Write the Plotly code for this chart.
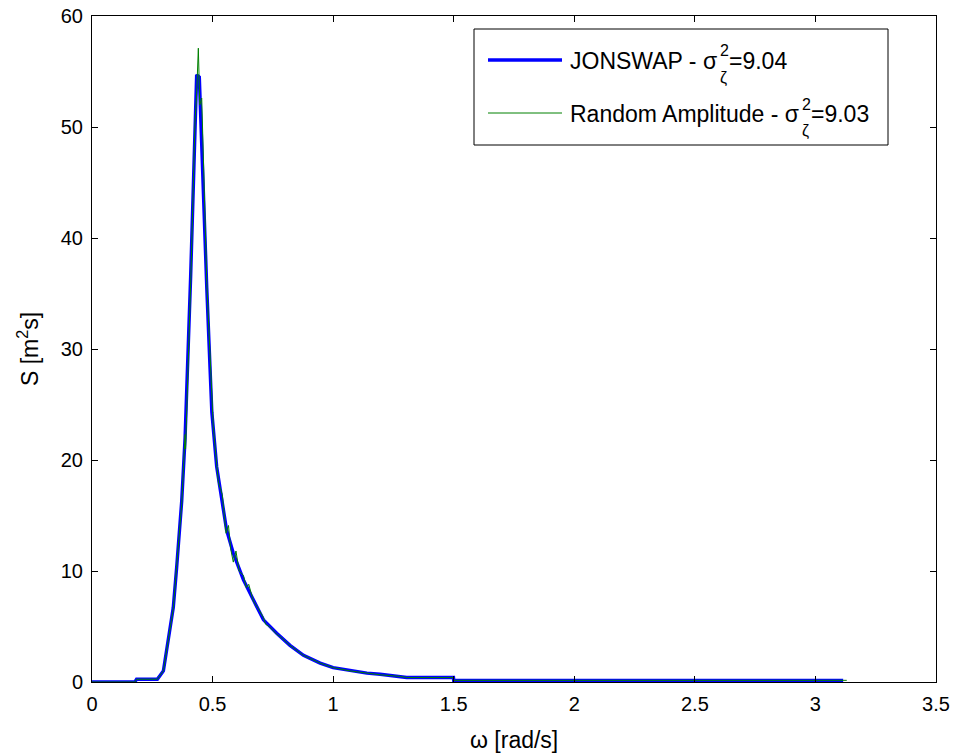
import plotly.graph_objects as go

# ---- data ----
omega_jonswap = [0.0, 0.10, 0.178, 0.185, 0.271, 0.296, 0.317, 0.337, 0.351, 0.372, 0.386,
                 0.409, 0.434, 0.445, 0.476, 0.497, 0.517, 0.538, 0.558, 0.586, 0.628,
                 0.669, 0.711, 0.766, 0.821, 0.877, 0.946, 1.0, 1.07, 1.14, 1.195, 1.28,
                 1.305, 1.499, 1.50, 3.115]
S_jonswap = [0.0, 0.0, 0.0, 0.25, 0.25, 1.0, 3.8, 6.7, 10.3, 16.3, 22.0,
             36.5, 54.7, 54.5, 35.5, 24.3, 19.4, 16.7, 13.7, 11.6, 9.2,
             7.4, 5.6, 4.4, 3.3, 2.4, 1.7, 1.3, 1.05, 0.8, 0.7, 0.5,
             0.4, 0.4, 0.15, 0.15]

omega_random = [0.0, 0.10, 0.178, 0.185, 0.271, 0.296, 0.317, 0.337, 0.351, 0.372, 0.386,
                0.388, 0.410, 0.427, 0.434, 0.441, 0.447, 0.455, 0.476, 0.497, 0.503,
                0.524, 0.540, 0.556, 0.566, 0.575, 0.586, 0.597, 0.610, 0.628, 0.640,
                0.650, 0.669, 0.690, 0.711, 0.720, 0.735, 0.766, 0.780, 0.821, 0.877,
                0.946, 1.0, 1.07, 1.14, 1.195, 1.28, 1.305, 1.499, 1.50, 3.13]
S_random = [0.0, 0.0, 0.0, 0.25, 0.25, 1.0, 3.8, 6.6, 10.4, 16.0, 22.3,
            21.0, 36.5, 50.4, 53.0, 57.1, 52.0, 52.6, 36.0, 24.8, 23.0,
            18.0, 16.9, 13.4, 14.1, 12.0, 10.8, 11.8, 10.0, 9.6, 8.5,
            8.8, 7.3, 6.6, 5.8, 5.2, 5.0, 4.3, 4.1, 3.3, 2.4,
            1.7, 1.3, 1.0, 0.8, 0.65, 0.5, 0.4, 0.4, 0.15, 0.15]

x_ticks = [0, 0.5, 1, 1.5, 2, 2.5, 3, 3.5]
x_tick_labels = ["0", "0.5", "1", "1.5", "2", "2.5", "3", "3.5"]
y_ticks = [0, 10, 20, 30, 40, 50, 60]

x_title = "ω [rad/s]"
y_title = "S [m<sup>2</sup>s]"
legend_names = ["JONSWAP - σ", "Random Amplitude - σ"]
legend_values = ["=9.04", "=9.03"]

# ---- layout geometry ----
W, H = 956, 756
L, R, T, B = 92, 20, 16, 74
PW, PH = W - L - R, H - T - B
FONT = "Liberation Sans, Arial, sans-serif"
FS_TICK = 20
FS_LABEL = 23
FS_LEG = 23
FS_SCRIPT = 16

def px(x):
    return (x - L) / PW

def py(y):
    return (H - B - y) / PH

fig = go.Figure()
fig.add_trace(go.Scatter(x=omega_jonswap, y=S_jonswap, mode="lines",
                         line=dict(color="#0000FF", width=3.4), name=legend_names[0],
                         showlegend=False))
fig.add_trace(go.Scatter(x=omega_random, y=S_random, mode="lines",
                         line=dict(color="#008000", width=1), name=legend_names[1],
                         showlegend=False))

axis_common = dict(showline=True, linecolor="black", linewidth=1, mirror="ticks",
                   ticks="inside", ticklen=6, tickcolor="black", tickwidth=1,
                   showgrid=False, zeroline=False, automargin=False,
                   tickfont=dict(family=FONT, size=FS_TICK, color="black"))

fig.update_xaxes(range=[0, 3.5], tickvals=x_ticks, ticktext=x_tick_labels,
                 ticklabelstandoff=4, **axis_common)
fig.update_yaxes(range=[0, 60], tickvals=y_ticks, ticklabelstandoff=4, **axis_common)

# ---- manual legend (stacked super/subscript) and axis titles ----
shapes = [dict(type="rect", xref="paper", yref="paper",
               x0=px(474), x1=px(888), y0=py(145), y1=py(29),
               line=dict(color="black", width=1), fillcolor="white", layer="above")]
rows_y = [61, 114]
line_cols = ["#0000FF", "#008000"]
line_ws = [3.4, 1]
sigma_right = [718, 800]
annotations = [
    dict(xref="paper", yref="paper", x=px(514), y=py(740), xanchor="center", yanchor="middle",
         text=x_title, showarrow=False, borderpad=0,
         font=dict(family=FONT, size=FS_LABEL, color="black")),
    dict(xref="paper", yref="paper", x=px(28), y=py(349), xanchor="center", yanchor="middle",
         text=y_title, textangle=-90, showarrow=False, borderpad=0,
         font=dict(family=FONT, size=FS_LABEL, color="black")),
]
for i in range(2):
    shapes.append(dict(type="line", xref="paper", yref="paper",
                       x0=px(488), x1=px(562), y0=py(rows_y[i] - 1), y1=py(rows_y[i] - 1),
                       line=dict(color=line_cols[i], width=line_ws[i]), layer="above"))
    annotations.append(dict(xref="paper", yref="paper", x=px(sigma_right[i]), y=py(rows_y[i]),
                            xanchor="right", yanchor="middle", text=legend_names[i],
                            showarrow=False, borderpad=0,
                            font=dict(family=FONT, size=FS_LEG, color="black")))
    annotations.append(dict(xref="paper", yref="paper", x=px(sigma_right[i] + 1), y=py(rows_y[i] - 10),
                            xanchor="left", yanchor="middle", text="2",
                            showarrow=False, borderpad=0,
                            font=dict(family=FONT, size=FS_SCRIPT, color="black")))
    annotations.append(dict(xref="paper", yref="paper", x=px(sigma_right[i] + 1), y=py(rows_y[i] + 17),
                            xanchor="left", yanchor="middle", text="ζ",
                            showarrow=False, borderpad=0,
                            font=dict(family=FONT, size=FS_SCRIPT, color="black")))
    annotations.append(dict(xref="paper", yref="paper", x=px(sigma_right[i] + 10), y=py(rows_y[i]),
                            xanchor="left", yanchor="middle", text=legend_values[i],
                            showarrow=False, borderpad=0,
                            font=dict(family=FONT, size=FS_LEG, color="black")))

fig.update_layout(width=W, height=H, margin=dict(l=L, r=R, t=T, b=B, autoexpand=False),
                  paper_bgcolor="white", plot_bgcolor="white",
                  shapes=shapes, annotations=annotations, showlegend=False,
                  font=dict(family=FONT, size=FS_TICK, color="black"))

fig.write_html("out.html")
